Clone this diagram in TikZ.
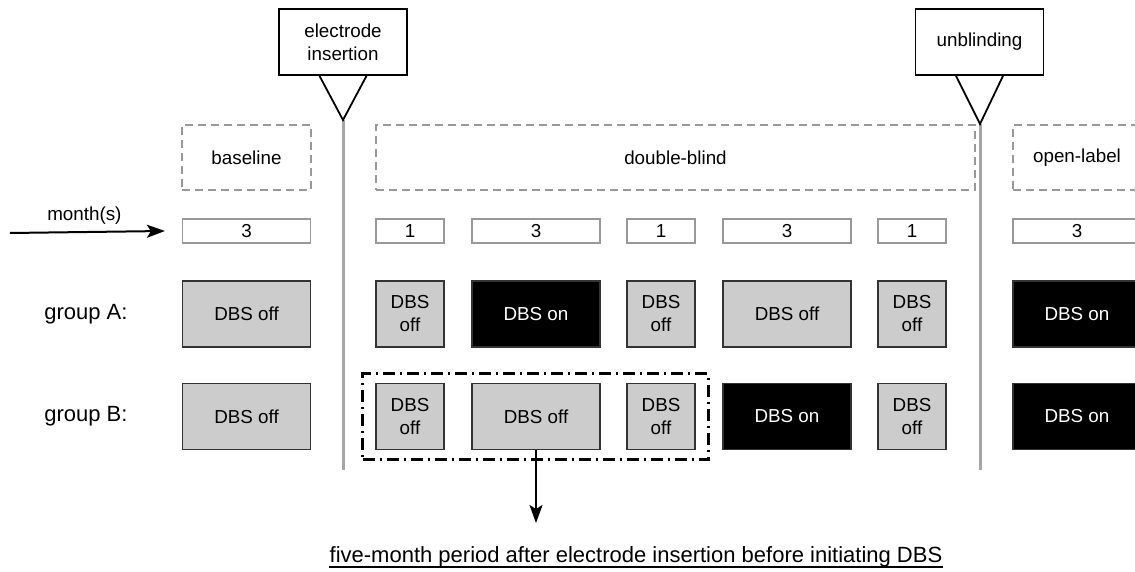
\documentclass[tikz,border=0pt]{standalone}
\usepackage{fontspec}
\setmainfont{Liberation Sans}
\usetikzlibrary{arrows.meta, positioning, fit}

\begin{document}
\begin{tikzpicture}[
            > = {Stealth[length = 9pt, width = 6.5pt, inset = 2pt]},
            x = 0.5pt,
            y = -0.5pt,
            font = \fontsize{9.4}{11.5}\selectfont,
            semithick
        ]

        \tikzstyle{offbox}=[
            draw = black!80,
            fill = black!20,
            line width = 0.7pt,
            align = center,
            minimum height = 33pt
        ]
        \tikzstyle{onbox}=[offbox, fill = black, text = white]
        \tikzstyle{monthbox}=[draw = black!40, line width = 0.6pt, minimum height = 12pt, inner sep = 0pt]
        \tikzstyle{phasebox}=[draw = black!40, line width = 0.8pt, dash pattern = on 4pt off 2.5pt, minimum height = 32.5pt]
        \tikzstyle{eventbox}=[draw, line width = 0.9pt, align = center, minimum width = 64pt, minimum height = 33pt]
        \tikzset{wide/.style={minimum width = 64pt}, narrow/.style={minimum width = 34pt}}
        \tikzset{sepline/.style={draw = black!35, line width = 1.5pt}}

        \useasboundingbox (0,0) rectangle (1135,572);

        % events on the time line
        \node[eventbox] (ins) at (343,42) {electrode\\insertion};
        \node[eventbox] (unb) at (979.5,42) {unblinding};
        \coordinate (insapex) at (343,120);
        \coordinate (insend) at (343,470);
        \coordinate (unbapex) at (980,124);
        \coordinate (unbend) at (980,470);
        \path[sepline] (insapex) -- (insend);
        \path[sepline] (unbapex) -- (unbend);
        \draw[line width = 0.9pt] ([xshift=-11.75pt]ins.south) -- (insapex) -- ([xshift=11.75pt]ins.south);
        \draw[line width = 0.9pt] ([xshift=-11.75pt]unb.south) -- (unbapex) -- ([xshift=11.75pt]unb.south);

        % phases
        \node[phasebox, minimum width = 64.5pt] (base) at (246.5,157.5) {baseline};
        \node[phasebox, minimum width = 299.5pt] (blind) at (675.5,157.5) {double-blind};
        \node[phasebox, minimum width = 64pt] (open) at (1077,157.5) {open-label};

        % months
        \node[monthbox, wide] (m0) at (246.5,231) {3};
        \node[monthbox, narrow] (m1) at (410,231) {1};
        \node[monthbox, wide] (m2) at (536,231) {3};
        \node[monthbox, narrow] (m3) at (661,231) {1};
        \node[monthbox, wide] (m4) at (787,231) {3};
        \node[monthbox, narrow] (m5) at (912,231) {1};
        \node[monthbox, wide] (m6) at (1077,231) {3};
        \coordinate (mstart) at (10,233);
        \draw[->, line width = 1pt] (mstart) -- node[above, pos=0.48] {month(s)} ([xshift=-8.5pt]m0.west);

        % group A
        \node[offbox, wide] (a0) at (246.5,314) {DBS off};
        \node[offbox, narrow] (a1) at (410,314) {DBS\\off};
        \node[onbox, wide] (a2) at (536,314) {DBS on};
        \node[offbox, narrow] (a3) at (661,314) {DBS\\off};
        \node[offbox, wide] (a4) at (787,314) {DBS off};
        \node[offbox, narrow] (a5) at (912,314) {DBS\\off};
        \node[onbox, wide] (a6) at (1077,314) {DBS on};
        \node[font=\fontsize{11}{13}\selectfont] (ga) [left=23.5pt of a0] {group A:};

        % group B
        \node[offbox, wide] (b0) at (246.5,416.5) {DBS off};
        \node[offbox, narrow] (b1) at (410,416.5) {DBS\\off};
        \node[offbox, wide] (b2) at (536,416.5) {DBS off};
        \node[offbox, narrow] (b3) at (661,416.5) {DBS\\off};
        \node[onbox, wide] (b4) at (787,416.5) {DBS on};
        \node[offbox, narrow] (b5) at (912,416.5) {DBS\\off};
        \node[onbox, wide] (b6) at (1077,416.5) {DBS on};
        \node[font=\fontsize{11}{13}\selectfont] (gb) [left=23.5pt of b0] {group B:};

        % five months without stimulation
        \node[draw, line width = 1.4pt, dash pattern = on 6pt off 2.5pt on 1pt off 2.5pt,
              fit = (b1)(b3), inner xsep = 6.25pt, inner ysep = 4.5pt] (fivemo) {};
        \coordinate (tip) at (536,523);
        \draw[->, line width = 1pt] (b2.south) -- (tip);
        \node[font=\fontsize{11}{13}\selectfont, anchor=base, inner xsep=0pt] (note) at (636,562) {five-month period after electrode insertion before initiating DBS};
        \draw[line width = 1pt] ([yshift=-2.6pt]note.base west) -- ([yshift=-2.6pt]note.base east);

    \end{tikzpicture}
\end{document}
